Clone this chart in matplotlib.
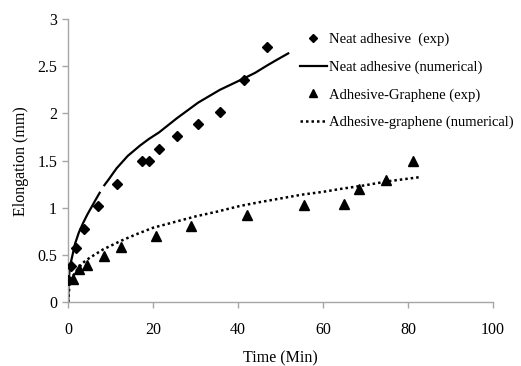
import numpy as np
import matplotlib
matplotlib.use("Agg")
import matplotlib.pyplot as plt
from matplotlib.ticker import FormatStrFormatter

plt.rcParams['font.family'] = ['Liberation Serif', 'DejaVu Serif']

# Neat adhesive - experiment
neat_exp_t = [0.0, 0.7, 1.8, 3.7, 6.9, 11.4, 17.3, 18.9, 21.4, 25.6, 30.6, 35.7, 41.3, 46.9]
neat_exp_y = [0.24, 0.38, 0.57, 0.78, 1.015, 1.255, 1.495, 1.495, 1.625, 1.76, 1.89, 2.02, 2.355, 2.70]

# Neat adhesive - numerical (line has a small break near t=8)
neat_num_t = [0.0, 0.05, 0.4, 1.0, 1.6, 2.5, 3.5, 4.5, 5.5, 6.5, 7.4, np.nan, 8.5, 9.5, 10.6,
              11.4, 14.0, 16.9, 19.0, 21.4, 25.6, 30.6, 35.7, 41.3, 44.0, 46.9, 49.0, 51.8]
neat_num_y = [0.0, 0.2, 0.38, 0.5, 0.62, 0.74, 0.84, 0.93, 1.01, 1.09, 1.16, np.nan, 1.24, 1.30, 1.37,
              1.42, 1.55, 1.66, 1.73, 1.80, 1.95, 2.115, 2.25, 2.37, 2.43, 2.51, 2.565, 2.636]

# Adhesive-Graphene - experiment
gr_exp_t = [1.2, 2.5, 4.3, 8.4, 12.5, 20.7, 28.9, 42.1, 55.5, 64.9, 68.4, 74.9, 81.2]
gr_exp_y = [0.25, 0.35, 0.40, 0.49, 0.59, 0.70, 0.81, 0.92, 1.03, 1.04, 1.20, 1.30, 1.50]

# Adhesive-graphene - numerical
gr_num_t = [0.0, 0.3, 1.0, 2.0, 3.5, 5.0, 8.2, 12.6, 16.0, 20.0, 25.0, 30.0, 35.0, 40.4,
            45.0, 50.0, 55.0, 60.0, 64.0, 70.0, 75.0, 82.7]
gr_num_y = [0.0, 0.2, 0.27, 0.34, 0.42, 0.47, 0.56, 0.655, 0.72, 0.79, 0.85, 0.91, 0.96, 1.02,
            1.06, 1.10, 1.14, 1.17, 1.20, 1.24, 1.28, 1.325]

fig = plt.figure(figsize=(5.21, 3.66), dpi=100)
ax = fig.add_axes([0.131, 0.174, 0.815, 0.774])

ax.plot(neat_exp_t, neat_exp_y, linestyle='none', marker='D', markersize=5,
        color='black', label='Neat adhesive  (exp)', zorder=3)
ax.plot(neat_num_t, neat_num_y, color='black', linewidth=1.6,
        label='Neat adhesive (numerical)')
ax.plot(gr_exp_t, gr_exp_y, linestyle='none', marker='^', markersize=7,
        color='black', label='Adhesive-Graphene (exp)', zorder=3)
ax.plot(gr_num_t, gr_num_y, color='black', linewidth=1.8, linestyle=(0, (1, 1.2)),
        label='Adhesive-graphene (numerical)')

ax.set_xlim(0, 100)
ax.set_ylim(0, 3)
ax.set_xticks([0, 20, 40, 60, 80, 100])
ax.set_yticks([0, 0.5, 1, 1.5, 2, 2.5, 3])
ax.yaxis.set_major_formatter(FormatStrFormatter('%g'))

for s in ['top', 'right']:
    ax.spines[s].set_visible(False)
for s in ['left', 'bottom']:
    ax.spines[s].set_color('#a6a6a6')
    ax.spines[s].set_linewidth(1.0)
ax.tick_params(axis='both', colors='#a6a6a6', labelcolor='black', length=4,
               width=1.0, labelsize=11.5, direction='out')
ax.tick_params(axis='x', pad=10)
ax.tick_params(axis='y', pad=4)

ax.set_xlabel('Time (Min)', fontsize=11.5, labelpad=9)
ax.set_ylabel('Elongation (mm)', fontsize=11.5, labelpad=6)

ax.legend(loc='upper left', bbox_to_anchor=(0.545, 0.952), frameon=False,
          fontsize=10.5, handlelength=1.85, handletextpad=0.15, labelspacing=0.98,
          borderaxespad=0, borderpad=0, markerscale=0.75)

fig.savefig('out.png', dpi=100)
